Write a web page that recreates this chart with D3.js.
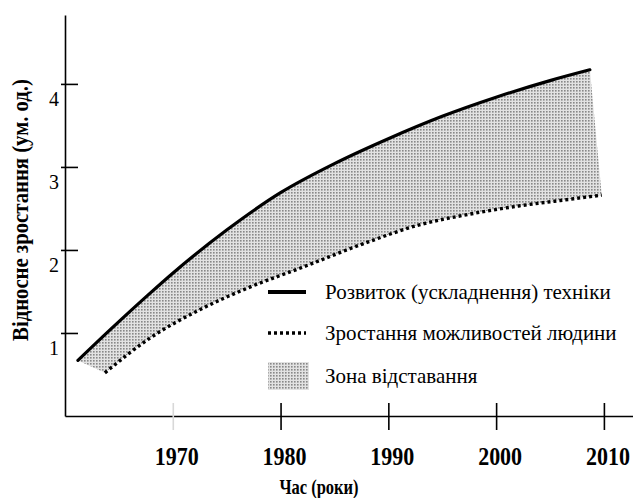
<!DOCTYPE html>
<html><head><meta charset="utf-8">
<script src="https://cdn.jsdelivr.net/npm/d3@7"></script>
<style>html,body{margin:0;padding:0;background:#fff;}svg{display:block;}</style>
</head><body>
<svg id="c" width="633" height="498"></svg>
<script>
// ---- data ----
const techYears  = [1961.2, 1964.2, 1967.9, 1970, 1975, 1980, 1985, 1990, 1995, 2000, 2005, 2008.7];
const techValues = [0.67, 1.04, 1.48, 1.72, 2.24, 2.69, 3.04, 3.34, 3.61, 3.84, 4.04, 4.17];
const humanYears  = [1963.7, 1967.9, 1972.5, 1977.1, 1981.8, 1988.2, 1992.8, 1997.5, 2002.1, 2006.8, 2009.8];
const humanValues = [0.52, 0.94, 1.28, 1.55, 1.78, 2.10, 2.30, 2.43, 2.53, 2.61, 2.66];
const xTicks = [1970, 1980, 1990, 2000, 2010];
const yTicks = [1, 2, 3, 4];
const legendLabels = ["Розвиток (ускладнення) техніки", "Зростання можливостей людини", "Зона відставання"];
const xTitle = "Час (роки)";
const yTitle = "Відносне зростання (ум. од.)";

const svg = d3.select("#c");
const x = d3.scaleLinear().domain([1960, 2012.7]).range([65, 633]);
const y = d3.scaleLinear().domain([0, 4.83]).range([416, 15]);
const FONT = "Liberation Serif";

// pattern
const defs = svg.append("defs");
const pat = defs.append("pattern").attr("id", "dots").attr("patternUnits", "userSpaceOnUse")
  .attr("width", 3).attr("height", 3);
pat.append("rect").attr("width", 3).attr("height", 3).attr("fill", "#e2e2e2");
pat.append("rect").attr("width", 1.6).attr("height", 1.6).attr("fill", "#888");

const tech = techYears.map((d, i) => [d, techValues[i]]);
const human = humanYears.map((d, i) => [d, humanValues[i]]);
const line = d3.line().x(d => x(d[0])).y(d => y(d[1])).curve(d3.curveMonotoneX);

// gap zone
const p1 = line(tech);
const p2 = line(human.slice().reverse()).replace(/^M/, "L");
svg.append("path").attr("d", p1 + p2 + "Z").attr("fill", "url(#dots)").attr("stroke", "none");

svg.append("path").attr("d", line(tech)).attr("fill", "none").attr("stroke", "#000")
  .attr("stroke-width", 3.2).attr("stroke-linecap", "round");
svg.append("path").attr("d", line(human)).attr("fill", "none").attr("stroke", "#000")
  .attr("stroke-width", 3.4).attr("stroke-dasharray", "3,3");

// axes
const xAxis = d3.axisBottom(x).tickValues(xTicks).tickSizeInner(13).tickSizeOuter(0).tickFormat("");
const gx = svg.append("g").attr("transform", "translate(0,416)").call(xAxis);
gx.select(".domain").attr("stroke", "#000").attr("stroke-width", 1.6);
gx.selectAll(".tick line").attr("y1", -13).attr("y2", 14).attr("stroke-width", 1.6)
  .attr("stroke", d => d === 1970 ? "#d8d8d8" : "#000");

const yAxis = d3.axisLeft(y).tickValues(yTicks).tickSizeInner(4).tickSizeOuter(0).tickFormat("");
const gy = svg.append("g").attr("transform", "translate(65,0)").call(yAxis);
gy.select(".domain").attr("stroke", "#000").attr("stroke-width", 1.6);
gy.selectAll(".tick line").attr("x1", -4).attr("x2", 13).attr("stroke-width", 1.6);

function txt(px, py, s, opt) {
  const o = Object.assign({size: 18, weight: "normal", sx: 1, anchor: "start", rot: 0}, opt);
  return svg.append("text")
    .attr("transform", `translate(${px},${py}) rotate(${o.rot}) scale(${o.sx},1)`)
    .attr("font-family", FONT).attr("font-size", o.size).attr("font-weight", o.weight)
    .attr("text-anchor", o.anchor).attr("fill", "#000").text(s);
}

xTicks.forEach(t => txt(x(t) + 4, 465, String(t), {size: 25, weight: "bold", sx: 0.88, anchor: "middle"}));
yTicks.forEach(t => txt(59, y(t) + 22, String(t), {size: 21, sx: 0.95, anchor: "end"}));

txt(319, 494, xTitle, {size: 22, weight: "bold", sx: 0.75, anchor: "middle"});
txt(28, 210, yTitle, {size: 23, weight: "bold", sx: 0.9, anchor: "middle", rot: -90});

// legend
const lx = 268, ly = [292, 333, 376];
svg.append("line").attr("x1", lx).attr("x2", lx + 38).attr("y1", ly[0]).attr("y2", ly[0])
  .attr("stroke", "#000").attr("stroke-width", 4);
svg.append("line").attr("x1", lx).attr("x2", lx + 38).attr("y1", ly[1]).attr("y2", ly[1])
  .attr("stroke", "#000").attr("stroke-width", 3.4).attr("stroke-dasharray", "3,3");
svg.append("rect").attr("x", lx).attr("y", ly[2] - 14).attr("width", 41).attr("height", 28)
  .attr("fill", "url(#dots)");
legendLabels.forEach((s, i) => txt(325, ly[i] + 7, s, {size: 21, sx: 1.0}));
</script>
</body></html>
